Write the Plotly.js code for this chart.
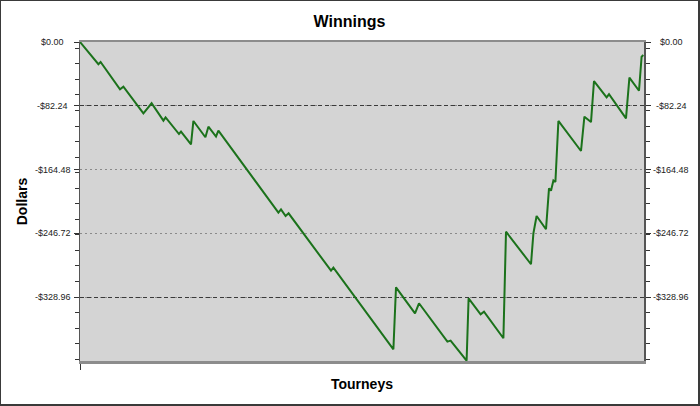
<!DOCTYPE html>
<html>
<head>
<meta charset="utf-8">
<script src="https://cdn.plot.ly/plotly-3.0.1.min.js"></script>
<style>
  html, body { margin: 0; padding: 0; background: #ffffff; }
  #wrap { width: 700px; height: 406px; box-sizing: border-box; border-style: solid; border-color: #3a3a3a; border-width: 1px 2px 2px 1px; overflow: hidden; }
  #chart { width: 697px; height: 403px; }
</style>
</head>
<body>
<div id="wrap"><div id="chart"></div></div>
<script>
// Tourney number at each turning point of the winnings line
const tourneys = [0, 9.2, 10.3, 20, 21.7, 31.7, 35.8, 41.7, 42.8, 49.5, 50.5, 55.5, 56.7, 62.7, 64.2, 68, 69.2,
  99.2, 100.5, 102.8, 104.3, 125.5, 126.7, 156.7, 158, 167.5, 169.5, 183.7, 185.3, 193.3, 194.3, 200.3, 202,
  211.7, 213, 225.5, 226.7, 228.3, 233, 234.5, 235.5, 236.7, 237.7, 239.2, 250.5, 252.2, 255.5, 257, 263.3,
  264.5, 273, 274.7, 279.5, 280.8, 281.7];
// Cumulative winnings in dollars at those points
const winnings = [0, -28.7, -25.8, -61.0, -57.6, -91.9, -79.0, -101.4, -97.1, -118.6, -115.6, -131.9, -101.8, -122.8, -109.2, -121.8, -114.3,
  -219.8, -215.7, -224.3, -220.8, -294.8, -290.9, -396.1, -316.2, -349.7, -336.8, -386.3, -385.0, -410.8, -330.4, -351.0, -347.6,
  -381.9, -244.5, -286.5, -246.6, -224.3, -241.4, -188.6, -191.7, -178.5, -180.5, -101.8, -140.5, -96.3, -103.2, -50.3, -71.3,
  -67.4, -98.4, -46.0, -62.8, -18.9, -16.8];

const tickValues = [0, -82.24, -164.48, -246.72, -328.96];
const tickLabels = ["$0.00", "-$82.24", "-$164.48", "-$246.72", "-$328.96"];
const dashedGridValues = [-82.24, -328.96];
const yRange = [-411.2, 0];
const xRange = [0, 282];

const FONT = "Liberation Sans, Arial, sans-serif";
const tickFont = { family: FONT, size: 9, color: "#222" };

const trace = {
  x: tourneys, y: winnings, type: "scatter", mode: "lines",
  line: { color: "#1b721b", width: 2 }, hoverinfo: "skip", showlegend: false
};

const baseY = {
  range: yRange, tickmode: "array", tickvals: tickValues, ticktext: tickLabels, showticklabels: false,
  ticks: "outside", ticklen: 5, tickcolor: "#333", tickwidth: 1,
  showline: true, linecolor: "#555", linewidth: 1.5,
  zeroline: false, fixedrange: true,
  minor: { tickmode: "linear", tick0: -8.1, dtick: 20.04, ticks: "outside", ticklen: 4, tickcolor: "#333", showgrid: false }
};

// Centered tick labels on both sides (the original centres them in their column)
const annotations = [];
tickValues.forEach((v, i) => {
  [-0.0479, 1.0479].forEach(px => {
    annotations.push({ text: tickLabels[i], x: px, xref: "paper", y: v, yref: "y",
      xanchor: "center", yanchor: "middle", showarrow: false, font: tickFont });
  });
});

const layout = {
  width: 697, height: 403,
  margin: { l: 79, r: 54, t: 41, b: 43, pad: 0 },
  paper_bgcolor: "#ffffff", plot_bgcolor: "#d4d4d4",
  title: { text: "Winnings", x: 0.5, xref: "container", y: 0.95, yref: "container", yanchor: "middle",
    font: { family: FONT, size: 16, color: "#000", weight: "bold" } },
  xaxis: {
    range: xRange, tickmode: "array", tickvals: [0], ticktext: [""],
    ticks: "outside", ticklen: 6, tickcolor: "#333",
    showline: true, mirror: true, linecolor: "#8c8c8c", linewidth: 2.5,
    showgrid: false, zeroline: false, fixedrange: true,
    title: { text: "Tourneys", standoff: 9, font: { family: FONT, size: 14, color: "#000", weight: "bold" } }
  },
  yaxis: Object.assign({}, baseY, {
    side: "left", showgrid: true, gridcolor: "#8a8a8a", griddash: "2px,3px", gridwidth: 1,
    title: { text: "Dollars", standoff: 42, font: { family: FONT, size: 14, color: "#000", weight: "bold" } }
  }),
  yaxis2: Object.assign({}, baseY, {
    overlaying: "y", side: "right", anchor: "x", matches: "y", showgrid: false
  }),
  yaxis3: {
    overlaying: "y", anchor: "x", matches: "y", range: yRange, tickmode: "array", tickvals: dashedGridValues,
    showticklabels: false, ticks: "", showline: false, zeroline: false,
    showgrid: true, gridcolor: "#3a3a3a", griddash: "4px,3px", gridwidth: 1, fixedrange: true
  },
  annotations: annotations
};

const ghost2 = { x: [tourneys[0]], y: [winnings[0]], yaxis: "y2", mode: "markers", marker: { opacity: 0 }, hoverinfo: "skip", showlegend: false };
const ghost3 = { x: [tourneys[0]], y: [winnings[0]], yaxis: "y3", mode: "markers", marker: { opacity: 0 }, hoverinfo: "skip", showlegend: false };

Plotly.newPlot("chart", [ghost2, ghost3, trace], layout, { displayModeBar: false, staticPlot: true });
</script>
</body>
</html>
